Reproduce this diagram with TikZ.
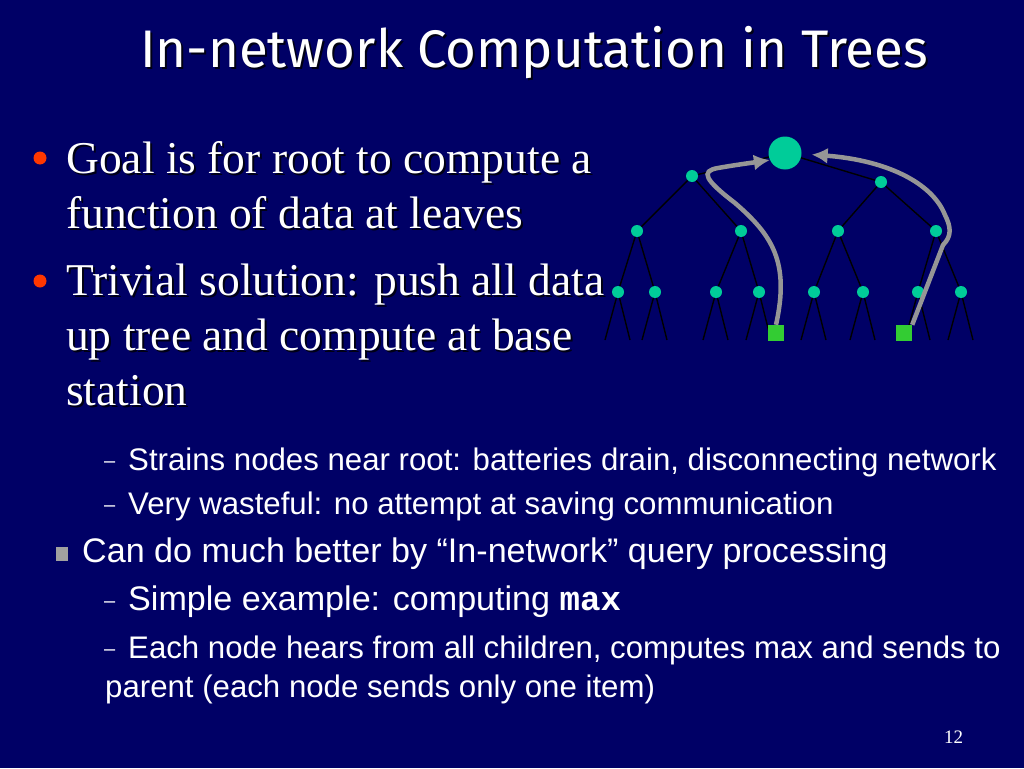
\documentclass[tikz,border=0pt]{standalone}
\usepackage{fontspec}
\setmainfont{Liberation Serif}
\newfontfamily\arialf{Liberation Sans}
\newfontfamily\courf{Liberation Mono}
\newfontfamily\titlef{Fira Sans}
\usetikzlibrary{arrows.meta}
\definecolor{bg}{RGB}{0,0,102}
\definecolor{tnode}{RGB}{0,204,153}
\definecolor{sqgreen}{RGB}{51,204,51}
\definecolor{arrowgray}{RGB}{150,150,150}
\definecolor{bulletred}{RGB}{255,55,0}
\definecolor{sqgray}{RGB}{160,160,160}
\definecolor{shadowc}{RGB}{0,0,20}
\newcommand\shd[1]{\makebox[0pt][l]{\hspace{2pt}\raisebox{-2pt}{\color{shadowc}#1}}#1}
\begin{document}
\begin{tikzpicture}[x=1pt,y=-1pt,
  tn/.style={circle,fill=tnode,inner sep=0pt,minimum size=12pt},
  rootnode/.style={circle,fill=tnode,inner sep=0pt,minimum size=33pt},
  sq/.style={rectangle,fill=sqgreen,inner sep=0pt,minimum size=16pt},
  edge/.style={draw=black,line width=1.4pt},
  garrow/.style={draw=arrowgray,line width=4.5pt,-{Latex[length=16pt,width=16pt]}},
  serif/.style={anchor=base west,inner sep=0pt,text=white,font=\fontsize{45.5}{55}\selectfont},
  subtext/.style={anchor=base west,inner sep=0pt,text=white,font=\arialf\fontsize{31.2}{38}\selectfont},
  bigtext/.style={anchor=base west,inner sep=0pt,text=white,font=\arialf\fontsize{34.1}{40}\selectfont},
  dashmark/.style={anchor=base west,inner sep=0pt,text=white,font=\arialf\fontsize{20}{24}\selectfont},
  dotbullet/.style={circle,fill=bulletred,inner sep=0pt,minimum size=13pt},
  sqbullet/.style={rectangle,fill=sqgray,inner sep=0pt,minimum width=12pt,minimum height=14pt}
]
\fill[bg] (0,0) rectangle (1024,768);

% title
\node[anchor=base west,inner sep=0pt,text=white] (title) at (140,67)
  {\shd{\resizebox{788pt}{!}{\titlef\fontsize{51}{60}\selectfont In-network Computation in Trees}}};

% main bullets
\node[dotbullet] (dot1) at (40,158) {};
\node[serif] (g1) at (66,173) {\shd{Goal is for root to compute a}};
\node[serif] (g2) at (66,228) {\shd{function of data at leaves}};
\node[dotbullet] (dot2) at (40,281) {};
\node[serif] (t1) at (66,295) {\shd{Trivial solution: push all data}};
\node[serif] (t2) at (66,350) {\shd{up tree and compute at base}};
\node[serif] (t3) at (66,405) {\shd{station}};

% sub items
\node[dashmark] (d1) at (104,467) {–};
\node[subtext] (s1) at (128,470) {Strains nodes near root: batteries drain, disconnecting network};
\node[dashmark] (d2) at (104,511) {–};
\node[subtext] (s2) at (128,514) {Very wasteful: no attempt at saving communication};
\node[sqbullet] (sqb) at (62,554) {};
\node[bigtext] (c1) at (82,562) {Can do much better by “In-network” query processing};
\node[dashmark] (d3) at (104,607) {–};
\node[bigtext] (e1) at (128,610) {Simple example: computing {\courf\bfseries max}};
\node[dashmark] (d4) at (104,655) {–};
\node[subtext] (e2) at (128,658) {Each node hears from all children, computes max and sends to};
\node[subtext] (e3) at (105,697) {parent (each node sends only one item)};
\node[anchor=base west,inner sep=0pt,text=white,font=\fontsize{19}{22}\selectfont] (pg) at (944,743) {12};

% tree nodes
\node[rootnode] (root) at (785,153) {};
\node[tn] (a) at (692,176) {};
\node[tn] (b) at (881,182) {};
\node[tn] (aa) at (637,231) {};
\node[tn] (ab) at (741,231) {};
\node[tn] (ba) at (838,231) {};
\node[tn] (bb) at (936,231) {};
\node[tn] (n1) at (618,292) {};
\node[tn] (n2) at (655,292) {};
\node[tn] (n3) at (716,292) {};
\node[tn] (n4) at (759,292) {};
\node[tn] (n5) at (814,292) {};
\node[tn] (n6) at (863,292) {};
\node[tn] (n7) at (918,292) {};
\node[tn] (n8) at (961,292) {};

\draw[edge] (root) -- (a);
\draw[edge] (root) -- (b);
\draw[edge] (a) -- (aa);
\draw[edge] (a) -- (ab);
\draw[edge] (b) -- (ba);
\draw[edge] (b) -- (bb);
\draw[edge] (aa) -- (n1);
\draw[edge] (aa) -- (n2);
\draw[edge] (ab) -- (n3);
\draw[edge] (ab) -- (n4);
\draw[edge] (ba) -- (n5);
\draw[edge] (ba) -- (n6);
\draw[edge] (bb) -- (n7);
\draw[edge] (bb) -- (n8);

\foreach \n/\x in {n1/618,n2/655,n3/716,n4/759,n5/814,n6/863,n7/918,n8/961}{
  \coordinate (\n l) at (\x-13,340);
  \coordinate (\n r) at (\x+12,340);
  \draw[edge] (\n) -- (\n l);
  \draw[edge] (\n) -- (\n r);
}

% data leaves
\node[sq] (sq1) at (776,333) {};
\node[sq] (sq2) at (904,333) {};

% gray arrows
\draw[garrow] (sq1.north) .. controls (790,262) and (772,235) .. (735,203)
  .. controls (705,180) and (700,171) .. (718,168)
  .. controls (735,165) and (750,163) .. (root.205);
\coordinate (bend) at (943,245);
\draw[garrow,shorten >=10pt] (sq2.north east) -- (bend)
  .. controls (952,236) and (951,227) .. (945,215)
  .. controls (932,182) and (885,160) .. (root.-3);
\end{tikzpicture}
\end{document}
